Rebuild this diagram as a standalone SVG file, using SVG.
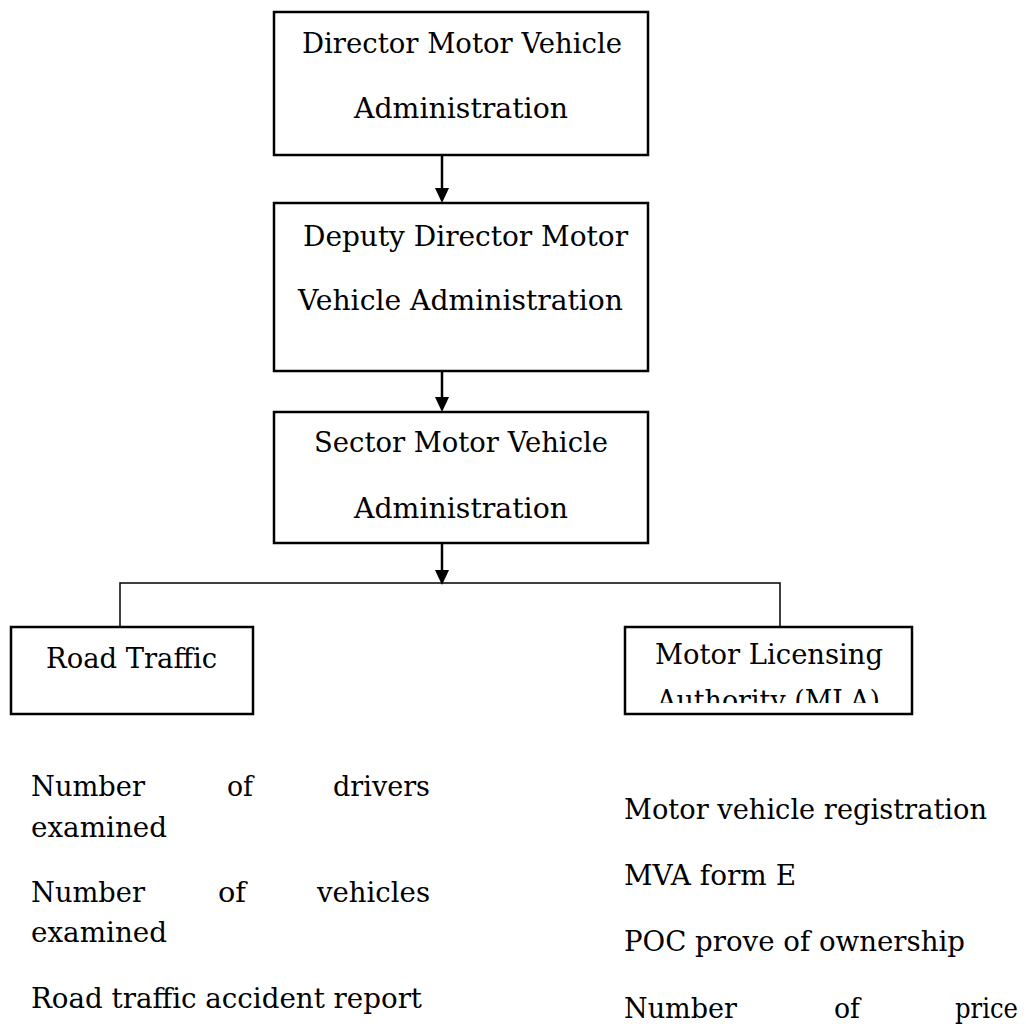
<svg xmlns="http://www.w3.org/2000/svg" width="1026" height="1024" viewBox="0 0 1026 1024">
<style>
.box{fill:#fff;stroke:#000;stroke-width:2.5}
.t{font-family:"DejaVu Serif","Liberation Serif",serif;font-size:28px;fill:#000}
.ln{fill:none;stroke:#000;stroke-width:2.5}
.thin{fill:none;stroke:#000;stroke-width:1.5}
</style>
<defs>
<clipPath id="mlaclip"><rect x="626" y="628" width="285" height="75"/></clipPath>
</defs>
<rect width="1026" height="1024" fill="#fff"/>

<g id="connectors">
<line class="ln" x1="442" y1="155" x2="442" y2="188"/>
<path d="M435,188 L449,188 L442,203 Z"/>
<line class="ln" x1="442" y1="371" x2="442" y2="397"/>
<path d="M435,397 L449,397 L442,412 Z"/>
<line class="ln" x1="442" y1="543" x2="442" y2="570"/>
<path d="M435,570 L449,570 L442,585 Z"/>
<polyline class="thin" points="120,627 120,583 780,583 780,627"/>
</g>

<g id="node-director">
<rect class="box" x="274" y="12" width="374" height="143"/>
<text class="t" x="302" y="53" textLength="320" lengthAdjust="spacingAndGlyphs">Director Motor Vehicle</text>
<text class="t" x="354" y="118" textLength="214" lengthAdjust="spacingAndGlyphs">Administration</text>
</g>

<g id="node-deputy">
<rect class="box" x="274" y="203" width="374" height="168"/>
<text class="t" x="303" y="246" textLength="325" lengthAdjust="spacingAndGlyphs">Deputy Director Motor</text>
<text class="t" x="298" y="310" textLength="325" lengthAdjust="spacingAndGlyphs">Vehicle Administration</text>
</g>

<g id="node-sector">
<rect class="box" x="274" y="412" width="374" height="131"/>
<text class="t" x="314" y="452" textLength="294" lengthAdjust="spacingAndGlyphs">Sector Motor Vehicle</text>
<text class="t" x="354" y="518" textLength="214" lengthAdjust="spacingAndGlyphs">Administration</text>
</g>

<g id="node-road-traffic">
<rect class="box" x="11" y="627" width="242" height="87"/>
<text class="t" x="46" y="668" textLength="171" lengthAdjust="spacingAndGlyphs">Road Traffic</text>
</g>

<g id="node-mla">
<rect class="box" x="625" y="627" width="287" height="87"/>
<text class="t" x="655" y="664" textLength="228" lengthAdjust="spacingAndGlyphs">Motor Licensing</text>
<text class="t" x="657" y="710" textLength="223" lengthAdjust="spacingAndGlyphs" clip-path="url(#mlaclip)">Authority (MLA)</text>
</g>

<g id="list-road-traffic">
<text class="t" x="31" y="796" textLength="114" lengthAdjust="spacingAndGlyphs">Number</text>
<text class="t" x="227" y="796" textLength="26" lengthAdjust="spacingAndGlyphs">of</text>
<text class="t" x="333" y="796" textLength="97" lengthAdjust="spacingAndGlyphs">drivers</text>
<text class="t" x="31" y="837" textLength="136" lengthAdjust="spacingAndGlyphs">examined</text>
<text class="t" x="31" y="902" textLength="114" lengthAdjust="spacingAndGlyphs">Number</text>
<text class="t" x="218" y="902" textLength="28" lengthAdjust="spacingAndGlyphs">of</text>
<text class="t" x="317" y="902" textLength="113" lengthAdjust="spacingAndGlyphs">vehicles</text>
<text class="t" x="31" y="942" textLength="136" lengthAdjust="spacingAndGlyphs">examined</text>
<text class="t" x="31" y="1008" textLength="391" lengthAdjust="spacingAndGlyphs">Road traffic accident report</text>
</g>

<g id="list-mla">
<text class="t" x="624" y="819" textLength="363" lengthAdjust="spacingAndGlyphs">Motor vehicle registration</text>
<text class="t" x="624" y="885" textLength="172" lengthAdjust="spacingAndGlyphs">MVA form E</text>
<text class="t" x="624" y="951" textLength="341" lengthAdjust="spacingAndGlyphs">POC prove of ownership</text>
<text class="t" x="624" y="1018" textLength="113" lengthAdjust="spacingAndGlyphs">Number</text>
<text class="t" x="834" y="1018" textLength="26" lengthAdjust="spacingAndGlyphs">of</text>
<text class="t" x="955" y="1018" textLength="63" lengthAdjust="spacingAndGlyphs">price</text>
</g>
</svg>
